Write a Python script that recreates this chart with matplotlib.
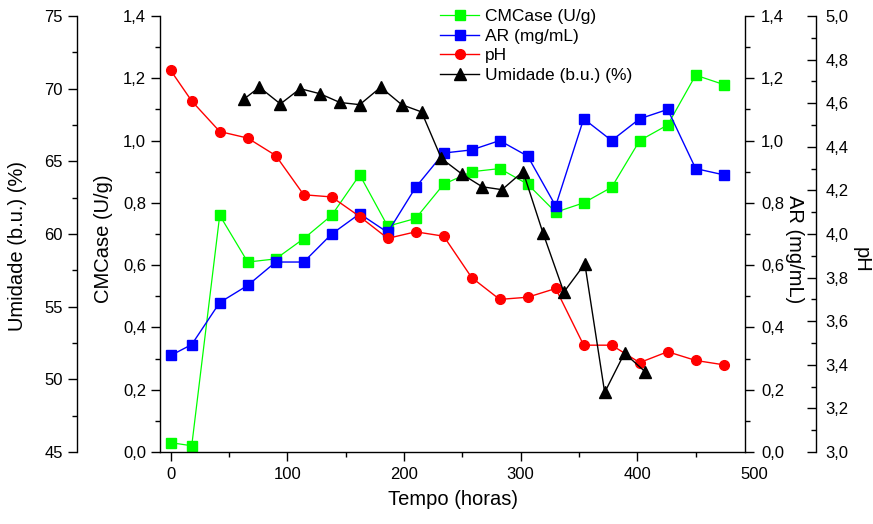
import matplotlib
matplotlib.use("Agg")
import matplotlib.pyplot as plt
from matplotlib.ticker import MultipleLocator, FuncFormatter
from matplotlib.transforms import offset_copy

plt.rcParams['font.family'] = ['Liberation Sans', 'DejaVu Sans']

# Dados
tempo = [0, 18, 42, 66, 90, 114, 138, 162, 186, 210, 234, 258, 282, 306,
         330, 354, 378, 402, 426, 450, 474]
cmcase = [0.03, 0.02, 0.76, 0.61, 0.62, 0.685, 0.76, 0.89, 0.725, 0.75, 0.86,
          0.90, 0.91, 0.86, 0.77, 0.80, 0.85, 1.00, 1.05, 1.21, 1.18]
ar = [0.31, 0.345, 0.48, 0.535, 0.61, 0.61, 0.70, 0.765, 0.705, 0.85, 0.96,
      0.97, 1.00, 0.95, 0.79, 1.07, 1.00, 1.07, 1.10, 0.91, 0.89]
ph = [4.75, 4.61, 4.47, 4.44, 4.36, 4.18, 4.17, 4.08, 3.98, 4.01, 3.99,
      3.80, 3.70, 3.71, 3.75, 3.49, 3.49, 3.41, 3.46, 3.42, 3.40]

tempo_umid = [63, 76, 94, 111, 128, 145, 162, 180, 198, 215, 232, 250, 267,
              284, 302, 319, 337, 355, 372, 389, 407]
umidade = [69.3, 70.1, 68.95, 70.0, 69.65, 69.05, 68.9, 70.1, 68.9, 68.4,
           65.2, 64.1, 63.25, 63.05, 64.3, 60.1, 56.0, 57.95, 49.1, 51.8, 50.5]

W, H = 873, 524
MAJ, MIN = 6.5, 3.5
LW = 1.0


def virgula(v, pos):
    return f"{v:.1f}".replace('.', ',')


def estilo(a, side, direction, pad):
    for s in a.spines.values():
        s.set_visible(False)
    a.spines[side].set_visible(True)
    a.spines[side].set_linewidth(LW)
    a.tick_params(axis='y', which='major', direction=direction, length=MAJ,
                  width=LW, labelsize=12, pad=pad)
    a.tick_params(axis='y', which='minor', direction=direction, length=MIN,
                  width=LW)


fig = plt.figure(figsize=(W / 100, H / 100), dpi=100)
ax = fig.add_axes([160 / W, 72 / H, 585 / W, 436 / H])
ax_ar = ax.twinx()
ax_ph = ax.twinx()
ax_um = ax.twinx()

# CMCase (eixo principal)
l1, = ax.plot(tempo, cmcase, '-s', color='#00ff00', lw=0.9, ms=6.5,
              mec='#00ff00', label='CMCase (U/g)')
estilo(ax, 'left', 'out', 3.5)
ax.spines['bottom'].set_visible(True)
ax.spines['bottom'].set_linewidth(LW)
ax.set_ylim(0, 1.4)
ax.yaxis.set_major_locator(MultipleLocator(0.2))
ax.yaxis.set_minor_locator(MultipleLocator(0.1))
ax.yaxis.set_major_formatter(FuncFormatter(virgula))
ax.set_ylabel('CMCase (U/g)', fontsize=14.5)
ax.yaxis.set_label_coords(-0.080, 0.49)

ax.set_xlim(-9.2, 492.3)
ax.xaxis.set_major_locator(MultipleLocator(100))
ax.xaxis.set_minor_locator(MultipleLocator(50))
ax.tick_params(axis='x', which='major', direction='out', length=MAJ,
               width=LW, labelsize=12, pad=4)
ax.tick_params(axis='x', which='minor', direction='out', length=MIN, width=LW)
ax.set_xlabel('Tempo (horas)', fontsize=14.5, labelpad=6)
# rotulo 500 fica fora do limite do eixo no original
trans = offset_copy(ax.get_xaxis_transform(), fig=fig, y=-(MAJ + 4),
                    units='points')
ax.text(500, 0, '500', transform=trans, ha='center', va='top', fontsize=12)

# AR
l2, = ax_ar.plot(tempo, ar, '-s', color='#0000ff', lw=1.0, ms=6.5,
                 mec='#0000ff', label='AR (mg/mL)')
estilo(ax_ar, 'right', 'out', 5)
ax_ar.set_ylim(0, 1.4)
ax_ar.yaxis.set_major_locator(MultipleLocator(0.2))
ax_ar.yaxis.set_minor_locator(MultipleLocator(0.1))
ax_ar.yaxis.set_major_formatter(FuncFormatter(virgula))
ax_ar.set_ylabel('AR (mg/mL)', fontsize=14.5, rotation=270, va='bottom')
ax_ar.yaxis.set_label_coords(1.068, 0.466)

# pH
l3, = ax_ph.plot(tempo, ph, '-o', color='#ff0000', lw=1.0, ms=7,
                 mec='#ff0000', label='pH')
estilo(ax_ph, 'right', 'in', 7)
ax_ph.spines['right'].set_position(('axes', 656 / 585))
ax_ph.set_ylim(3.0, 5.0)
ax_ph.yaxis.set_major_locator(MultipleLocator(0.2))
ax_ph.yaxis.set_minor_locator(MultipleLocator(0.1))
ax_ph.yaxis.set_major_formatter(FuncFormatter(virgula))
ax_ph.set_ylabel('pH', fontsize=14.5, rotation=270, va='bottom')
ax_ph.yaxis.set_label_coords(1.183, 0.44)

# Umidade
l4, = ax_um.plot(tempo_umid, umidade, '-^', color='black', lw=1.0, ms=8,
                 label='Umidade (b.u.) (%)')
ax_um.yaxis.set_ticks_position('left')
ax_um.yaxis.set_label_position('left')
estilo(ax_um, 'left', 'out', 3.5)
ax_um.spines['left'].set_position(('axes', -83 / 585))
ax_um.set_ylim(45, 75)
ax_um.yaxis.set_major_locator(MultipleLocator(5))
ax_um.yaxis.set_minor_locator(MultipleLocator(2.5))
ax_um.set_ylabel('Umidade (b.u.) (%)', fontsize=14.5)
ax_um.yaxis.set_label_coords(-0.227, 0.472)

fig.legend(handles=[l1, l2, l3, l4], loc='upper left',
           bbox_to_anchor=(440 / W, 1 - 9 / H), frameon=False,
           fontsize=12.5, handlelength=2.25, handletextpad=0.35,
           labelspacing=0.25, borderpad=0, borderaxespad=0)

fig.savefig('out.png', dpi=100)
